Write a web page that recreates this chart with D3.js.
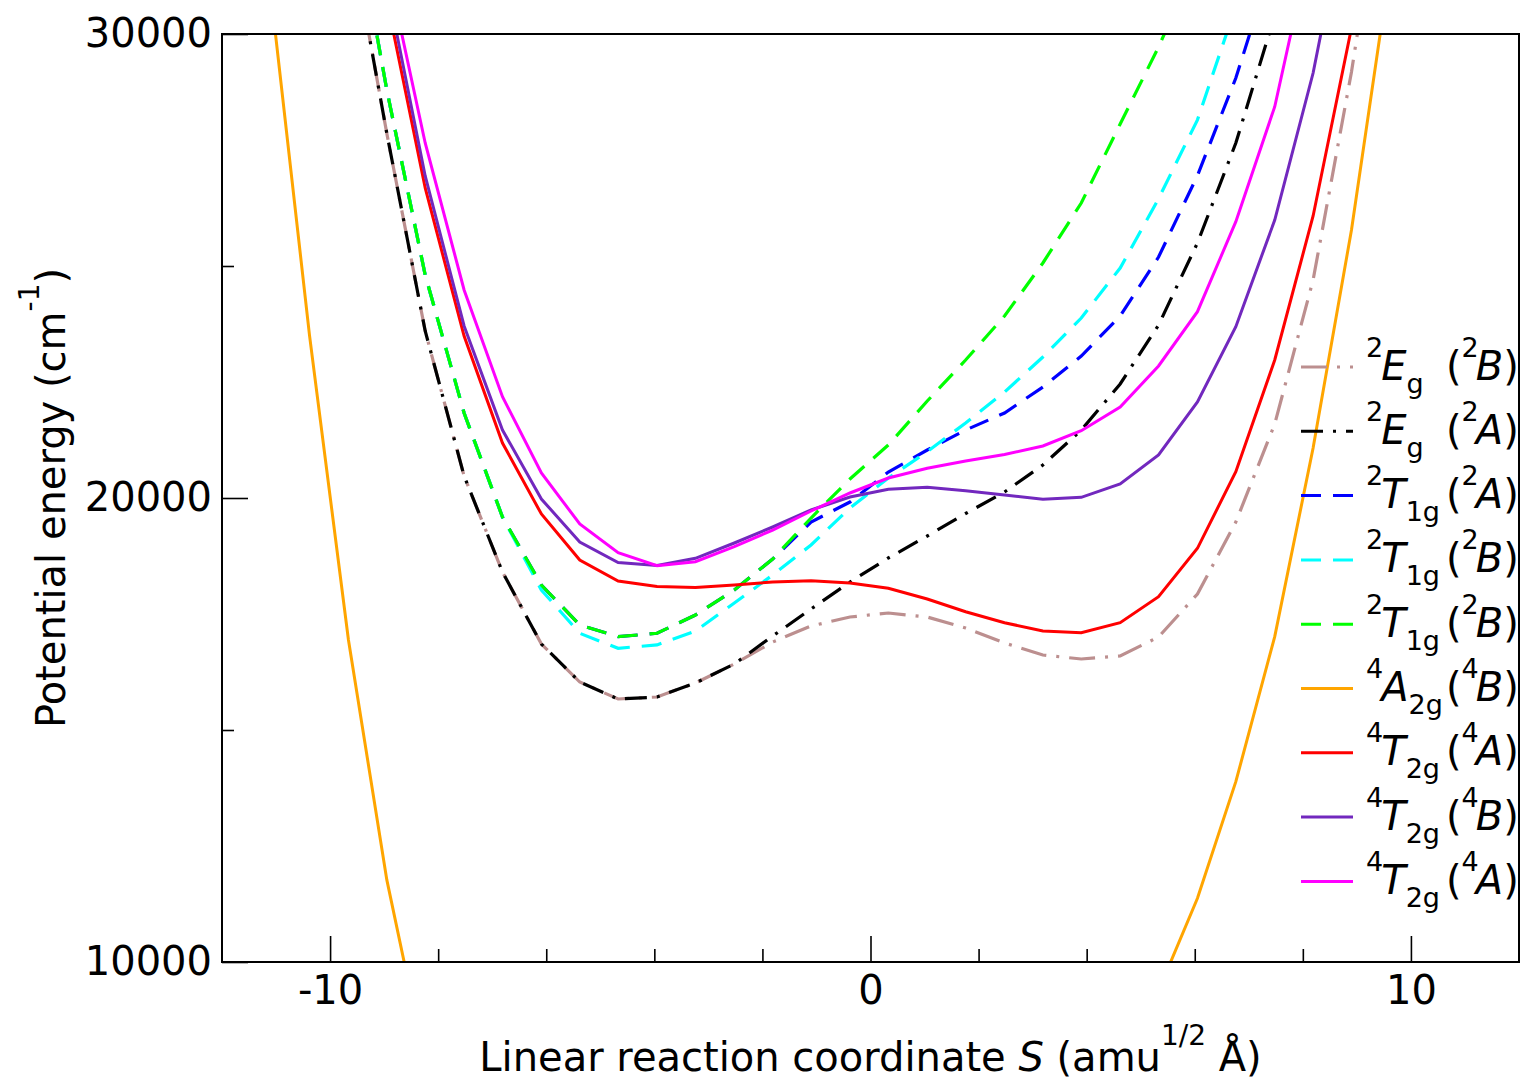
<!DOCTYPE html>
<html>
<head>
<meta charset="UTF-8">
<title>Potential energy curves</title>
<style>
    body { margin: 0; background: #fff; }
    svg { display: block; font-family: "DejaVu Sans", sans-serif; }
</style>
</head>
<body>
<svg></svg>
<script src="https://d3js.org/d3.v7.min.js"></script>
<script>

// reaction coordinate S of the computed points (amu^1/2 Å)
const S = [-11.09, -10.38, -9.66, -8.95, -8.24, -7.52, -6.81, -6.09, -5.38, -4.67,
           -3.95, -3.24, -2.52, -1.81, -1.10, -0.38, 0.33, 1.05, 1.76, 2.48,
           3.19, 3.90, 4.62, 5.33, 6.05, 6.76, 7.48, 8.19, 8.90, 9.62, 10.33];

// energies in cm^-1, one value per S (null = not computed / off the chart)
const E2g_B = [null, null, 32430, 27856, 23599, 20474, 18405, 16853, 16034, 15668,
               15711, 16013, 16422, 16896, 17241, 17435, 17521, 17435, 17198, 16875,
               16616, 16530, 16595, 17004, 17931, 19483, 21595, 24698, 29181, 34590, null];
const E2g_A = [null, null, 32430, 27856, 23599, 20474, 18405, 16853, 16034, 15668,
               15711, 16013, 16422, 17026, 17608, 18190, 18707, 19181, 19666, 20129,
               20711, 21465, 22457, 23728, 25496, 27650, 30400, null, null, null, null];
const T1g_A = [null, null, 33360, 28793, 24806, 21832, 19590, 18124, 17263, 17011,
               17084, 17478, 18017, 18685, 19482, 19913, 20560, 21034, 21465, 21832,
               22392, 23060, 23922, 25194, 26950, 29050, 31700, null, null, null, null];
const T1g_B1 = [null, null, 33360, 28793, 24806, 21832, 19590, 18017, 17084, 16761,
                16834, 17133, 17737, 18340, 18987, 19784, 20431, 20998, 21616, 22284,
                23039, 23879, 24957, 26450, 28150, 30600, null, null, null, null, null];
const T1g_B2 = [null, null, 33360, 28793, 24806, 21832, 19590, 18124, 17263, 17011,
                17084, 17478, 18017, 18685, 19569, 20409, 21142, 22090, 22974, 23922,
                25065, 26358, 28060, 29720, 31600, null, null, null, null, null, null];
const A2g_B = [30820, 23500, 16940, 11770, 7850, null, null, null, null, null,
               null, null, null, null, null, null, null, null, null, null,
               null, null, null, 9380, 11374, 13887, 17012, 21078, 25776, 31500, null];
const T2g_A1 = [null, null, 35300, 30733, 26681, 23491, 21185, 19655, 18664, 18211,
                18093, 18071, 18125, 18190, 18218, 18168, 18054, 17823, 17549, 17312,
                17133, 17097, 17312, 17873, 18916, 20567, 22974, 26078, 30130, 36120, null];
const T2g_B = [null, null, 35650, 31080, 26940, 23707, 21465, 19978, 19052, 18610,
               18545, 18700, 19030, 19375, 19741, 20021, 20187, 20230, 20157, 20065,
               19972, 20015, 20302, 20927, 22069, 23692, 25991, 29159, 33320, null, null];
const T2g_A2 = [null, null, 35670, 31500, 27651, 24483, 22183, 20539, 19440, 18821,
                18541, 18627, 18950, 19310, 19720, 20108, 20431, 20640, 20797, 20937,
                21121, 21450, 21961, 22845, 24015, 25955, 28433, 32180, null, null, null];

// legend text pieces
const spin = ["2", "2", "2", "2", "2", "4", "4", "4", "4"];
const term = ["E", "E", "T", "T", "T", "A", "T", "T", "T"];
const termSub = ["g", "g", "1g", "1g", "1g", "2g", "2g", "2g", "2g"];
const parent = ["B", "A", "A", "B", "B", "B", "A", "B", "A"];

const xMajor = [-10, 0, 10];
const xMinor = [-8, -6, -4, -2, 2, 4, 6, 8];
const yMajor = [10000, 20000, 30000];
const yMinor = [15000, 25000];

// drawing styles, in legend order
const series = [E2g_B, E2g_A, T1g_A, T1g_B1, T1g_B2, A2g_B, T2g_A1, T2g_B, T2g_A2];
const colors = ["#bc8f8f", "#000000", "#0000ff", "#00ffff", "#00ff00", "#ffa500", "#ff0000", "#7228be", "#ff00ff"];
const dashes = ["26,10,3,10", "22,10,3,10", "20,12", "20,12", "20,12", null, null, null, null];

let width = 1520, height = 1080;
let mLeft = 222, mRight = 1519, mTop = 34, mBottom = 962;

let svg = d3.select("svg")
    .attr("width", width)
    .attr("height", height);

let x = d3.scaleLinear().domain([-12, 12]).range([mLeft, mRight]);
let y = d3.scaleLinear().domain([10000, 30000]).range([mBottom, mTop]);

svg.append("clipPath").attr("id", "plot")
    .append("rect")
    .attr("x", mLeft).attr("y", mTop)
    .attr("width", mRight - mLeft).attr("height", mBottom - mTop);

// curves
let line = d3.line()
    .defined(d => d[1] != null)
    .x(d => x(d[0]))
    .y(d => y(d[1]));

svg.append("g")
    .attr("clip-path", "url(#plot)")
    .selectAll("path")
    .data(series)
    .enter()
    .append("path")
    .attr("d", vals => line(S.map((s, i) => [s, vals[i]])))
    .attr("fill", "none")
    .attr("stroke", (d, i) => colors[i])
    .attr("stroke-width", (d, i) => dashes[i] ? 3.2 : 3)
    .attr("stroke-dasharray", (d, i) => dashes[i]);

// axes, ticks pointing inwards
function styleAxis(g) {
    g.select(".domain").remove();
    g.selectAll("line").attr("stroke", "#000").attr("stroke-width", 1.6);
    g.attr("font-family", "DejaVu Sans, sans-serif").attr("font-size", 40);
    g.selectAll("text").attr("fill", "#000");
}

svg.append("g")
    .attr("transform", "translate(0," + mBottom + ")")
    .call(d3.axisBottom(x).tickValues(xMajor).tickSize(-26).tickPadding(14).tickFormat(d => String(d)))
    .call(styleAxis);
svg.append("g")
    .attr("transform", "translate(0," + mBottom + ")")
    .call(d3.axisBottom(x).tickValues(xMinor).tickSize(-13).tickFormat(""))
    .call(styleAxis);
svg.append("g")
    .attr("transform", "translate(" + mLeft + ",0)")
    .call(d3.axisLeft(y).tickValues(yMajor).tickSize(-26).tickPadding(10).tickFormat(d => String(d)))
    .call(styleAxis);
svg.append("g")
    .attr("transform", "translate(" + mLeft + ",0)")
    .call(d3.axisLeft(y).tickValues(yMinor).tickSize(-12).tickFormat(""))
    .call(styleAxis);

svg.append("rect")
    .attr("x", mLeft).attr("y", mTop)
    .attr("width", mRight - mLeft).attr("height", mBottom - mTop)
    .attr("fill", "none")
    .attr("stroke", "#000")
    .attr("stroke-width", 2);

// axis titles
let xt = svg.append("text")
    .attr("x", (mLeft + mRight) / 2)
    .attr("y", 1071)
    .attr("text-anchor", "middle")
    .attr("font-size", 40);
xt.append("tspan").text("Linear reaction coordinate ");
xt.append("tspan").attr("font-style", "italic").text("S");
xt.append("tspan").text(" (amu");
xt.append("tspan").attr("font-size", 28).attr("dy", -26).text("1/2");
xt.append("tspan").attr("dy", 26).text(" Å)");

let yt = svg.append("text")
    .attr("transform", "translate(65," + ((mTop + mBottom) / 2) + ") rotate(-90)")
    .attr("text-anchor", "middle")
    .attr("font-size", 40);
yt.append("tspan").text("Potential energy (cm");
yt.append("tspan").attr("font-size", 28).attr("dy", -26).text("-1");
yt.append("tspan").attr("dy", 26).text(")");

// legend
let legend = svg.append("g");
series.forEach((vals, i) => {
    let ly = 367 + i * 64.3;
    legend.append("line")
        .attr("x1", 1301).attr("x2", 1353)
        .attr("y1", ly).attr("y2", ly)
        .attr("stroke", colors[i])
        .attr("stroke-width", 3)
        .attr("stroke-dasharray", dashes[i]);

    let t = legend.append("text")
        .attr("x", 1366)
        .attr("y", ly + 12.5)
        .attr("font-size", 40);
    t.append("tspan").attr("font-size", 27).attr("dy", -23).text(spin[i]);
    t.append("tspan").attr("font-style", "italic").attr("dy", 23).attr("dx", -2).text(term[i]);
    t.append("tspan").attr("font-size", 27).attr("dy", 13).text(termSub[i]);
    t.append("tspan").attr("x", 1446).attr("dy", -13).text("(");
    t.append("tspan").attr("font-size", 27).attr("dy", -23).text(spin[i]);
    t.append("tspan").attr("font-style", "italic").attr("dy", 23).attr("dx", -3).text(parent[i]);
    t.append("tspan").text(")");
});

</script>
</body>
</html>
